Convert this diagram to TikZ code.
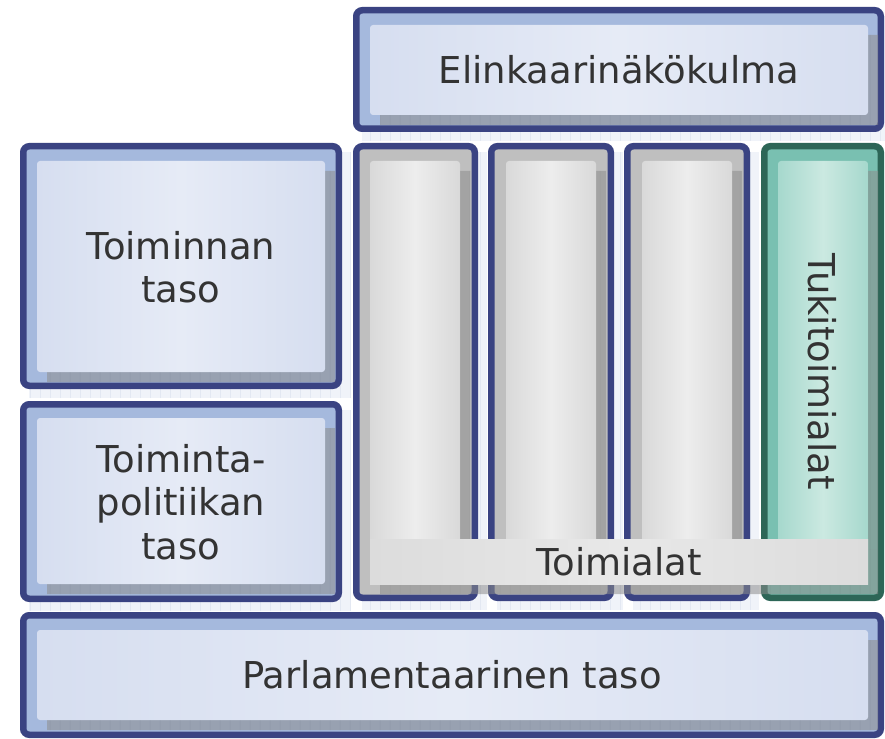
\documentclass[tikz,border=0pt]{standalone}
\usepackage{fontspec}
\setmainfont{DejaVu Sans}
\definecolor{navy}{HTML}{3A4382}
\definecolor{blueout}{HTML}{A5B9DD}
\definecolor{blueinE}{HTML}{D6DEF0}
\definecolor{blueinM}{HTML}{E6EBF6}
\definecolor{grayout}{HTML}{BFBFBF}
\definecolor{grayinE}{HTML}{D9D9D9}
\definecolor{grayinM}{HTML}{EDEDED}
\definecolor{greenbd}{HTML}{2D6657}
\definecolor{greenout}{HTML}{79C0B1}
\definecolor{greeninE}{HTML}{A6D8CD}
\definecolor{greeninM}{HTML}{CBE9E1}
\definecolor{barE}{HTML}{DCDCDC}
\definecolor{barM}{HTML}{E8E8E8}
\definecolor{glowc}{HTML}{F0F3F9}
\definecolor{glowl}{HTML}{E3E8F2}
\definecolor{shadc}{HTML}{8D8D8D}
\definecolor{shadl}{HTML}{7A7A7A}
\definecolor{txt}{HTML}{333333}
\newcommand\myglow[4]{%
  \begin{scope}
  \clip ({#1+9},{#2+9}) rectangle ({#3+9},{#4+9});
  \fill[glowc] ({#1+9},{#2+9}) rectangle ({#3+9},{#4+9});
  \draw[glowl,line width=0.5pt,step=10] ({#1+9},{#2+9}) grid ({#3+9},{#4+9});
  \end{scope}}
\newcommand\myouter[5]{\draw[#5] ({#1+3.25},{#2+3.25}) rectangle ({#3-3.25},{#4-3.25});}
\newcommand\myshadow[4]{%
  \begin{scope}[transparency group,opacity=0.54]
  \clip ({#1+10},{#2+10}) rectangle ({#3+10},{#4+10});
  \fill[shadc] ({#1+10},{#2+10}) rectangle ({#3+10},{#4+10});
  \draw[shadl,line width=0.5pt,step=10] ({#1+10},{#2+10}) grid ({#3+10},{#4+10});
  \end{scope}}
\newcommand\myinner[5]{\shade[#5,rounded corners=3pt] (#1,#2) rectangle (#3,#4);}
\begin{document}
\begin{tikzpicture}[x=1pt,y=-1pt,
  bluebox/.style={draw=navy,fill=blueout,line width=6.5pt,rounded corners=6pt},
  graybox/.style={draw=navy,fill=grayout,line width=6.5pt,rounded corners=6pt},
  greenbox/.style={draw=greenbd,fill=greenout,line width=6.5pt,rounded corners=6pt},
  bluein/.style={left color=blueinE,right color=blueinE,middle color=blueinM},
  grayin/.style={left color=grayinE,right color=grayinE,middle color=grayinM},
  greenin/.style={left color=greeninE,right color=greeninE,middle color=greeninM},
  barin/.style={left color=barE,right color=barE,middle color=barM},
  lbl/.style={text=txt,font=\fontsize{37}{43.5}\selectfont,align=center,inner sep=0pt}]
\useasboundingbox (0,0) rectangle (885,738);
\fill[white] (0,0) rectangle (885,738);
% faint reflections
\myglow{353}{7}{884}{132}
\myglow{20}{143}{342}{389}
\myglow{20}{401}{342}{602}
\myglow{353}{143}{478}{601}
\myglow{488}{143}{614}{601}
\myglow{624}{143}{750}{601}
% outer boxes
\myouter{353}{7}{884}{132}{bluebox}
\myouter{20}{143}{342}{389}{bluebox}
\myouter{20}{401}{342}{602}{bluebox}
\myouter{20}{612}{884}{738}{bluebox}
\myouter{353}{143}{478}{601}{graybox}
\myouter{488}{143}{614}{601}{graybox}
\myouter{624}{143}{750}{601}{graybox}
\myouter{761}{143}{884}{601}{greenbox}
% shadows
\myshadow{370}{25}{868}{115}
\myshadow{37}{161}{325}{372}
\myshadow{37}{418}{325}{584}
\myshadow{37}{630}{868}{720}
\myshadow{370}{161}{460}{539}
\myshadow{506}{161}{596}{539}
\myshadow{642}{161}{732}{539}
\myshadow{778}{161}{868}{539}
% inner boxes
\myinner{370}{25}{868}{115}{bluein}
\myinner{37}{161}{325}{372}{bluein}
\myinner{37}{418}{325}{584}{bluein}
\myinner{37}{630}{868}{720}{bluein}
\myinner{370}{161}{460}{584}{grayin}
\myinner{506}{161}{596}{584}{grayin}
\myinner{642}{161}{732}{584}{grayin}
\myinner{778}{161}{868}{584}{greenin}
% bar
\myshadow{370}{539}{868}{584}
\shade[barin] (370,539) rectangle (868,584);
% texts
\node[lbl] (elink) at (619,70) {Elinkaarinäkökulma};
\node[lbl] (toim) at (181,267) {Toiminnan\\taso};
\node[lbl] (polit) at (181,502) {Toiminta-\\politiikan\\taso};
\node[lbl] (parl) at (452,675) {Parlamentaarinen taso};
\node[lbl] (toimialat) at (619,562) {Toimialat};
\node[lbl,rotate=-90] (tuki) at (822,372) {Tukitoimialat};
\end{tikzpicture}
\end{document}
